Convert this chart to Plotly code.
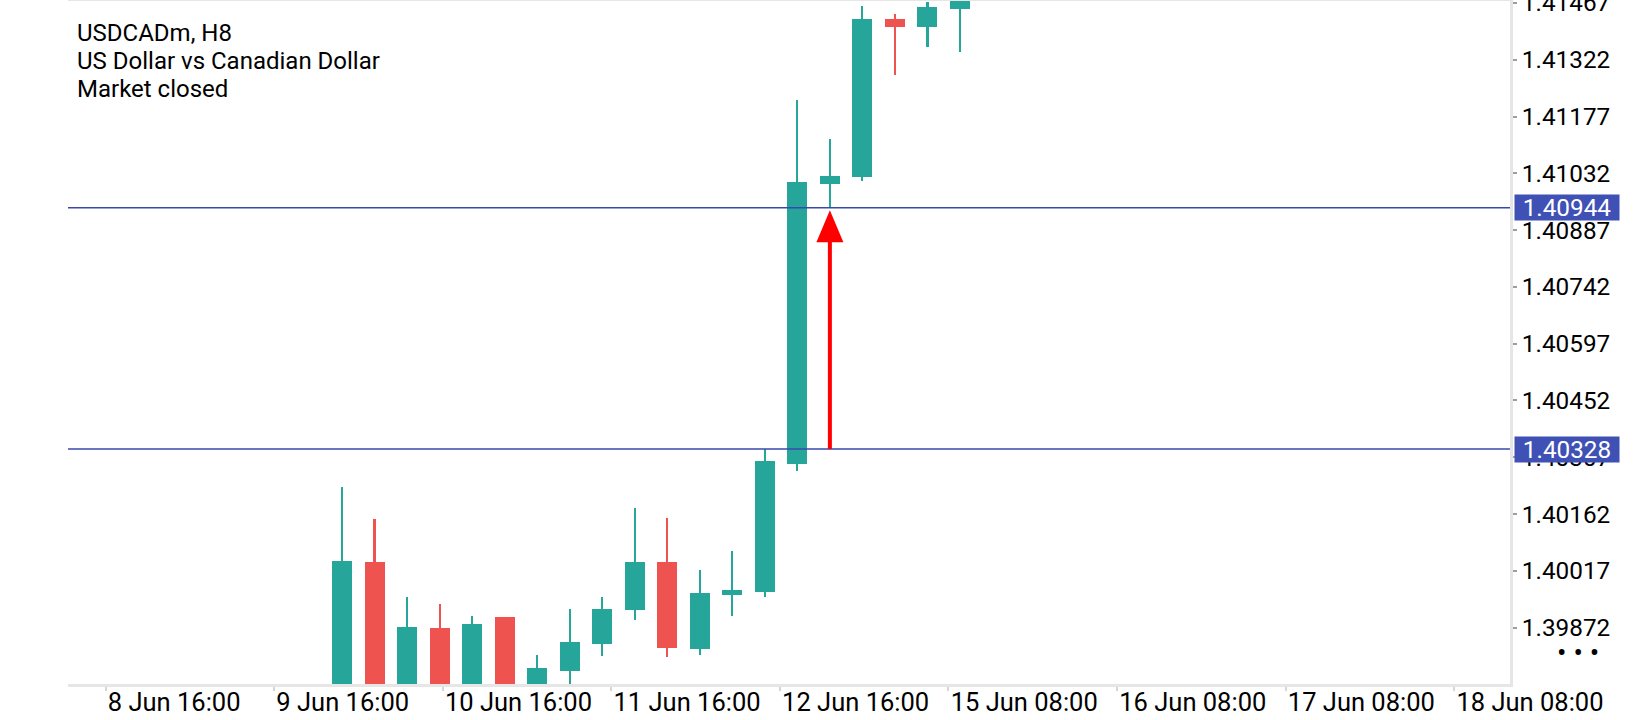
import plotly.graph_objects as go

# ---------------- data ----------------
opens  = [1.39650, 1.40040, 1.39700, 1.39872, 1.39710, 1.39900, 1.39720, 1.39762,
          1.39831, 1.39918, 1.40039, 1.39817, 1.39956, 1.39964, 1.40290, 1.41005,
          1.41023, 1.41426, 1.41405, 1.41451]
highs  = [1.40232, 1.40149, 1.39950, 1.39932, 1.39902, 1.39900, 1.39802, 1.39920,
          1.39950, 1.40177, 1.40152, 1.40019, 1.40068, 1.40327, 1.41219, 1.41119,
          1.41459, 1.41439, 1.41470, 1.41500]
lows   = [1.39600, 1.39650, 1.39660, 1.39680, 1.39690, 1.39700, 1.39705, 1.39715,
          1.39800, 1.39891, 1.39797, 1.39803, 1.39902, 1.39951, 1.40273, 1.40944,
          1.41013, 1.41284, 1.41355, 1.41342]
closes = [1.40043, 1.39690, 1.39874, 1.39700, 1.39881, 1.39715, 1.39769, 1.39835,
          1.39920, 1.40039, 1.39820, 1.39960, 1.39968, 1.40297, 1.41010, 1.41025,
          1.41426, 1.41405, 1.41457, 1.41485]

y_tick_labels = ["1.39872", "1.40017", "1.40162", "1.40307", "1.40452", "1.40597",
                 "1.40742", "1.40887", "1.41032", "1.41177", "1.41322", "1.41467"]
x_tick_labels = ["8 Jun 16:00", "9 Jun 16:00", "10 Jun 16:00", "11 Jun 16:00",
                 "12 Jun 16:00", "15 Jun 08:00", "16 Jun 08:00", "17 Jun 08:00",
                 "18 Jun 08:00"]
level_upper = 1.40944
level_lower = 1.40328
arrow_bar = 15
title_lines = ["USDCADm, H8", "US Dollar vs Canadian Dollar", "Market closed"]

# ---------------- styling ----------------
UP = "#26a69a"
DOWN = "#ef5350"
LEVEL = "#3949ab"
LABEL_BG = "#3f51b5"
FRAME = "#e6e6e6"
FONT = "Roboto"

idx = list(range(len(opens)))
colors = [UP if c >= o else DOWN for o, c in zip(opens, closes)]

fig = go.Figure()
# wicks
fig.add_trace(go.Bar(
    x=idx, base=lows, y=[h - l for h, l in zip(highs, lows)],
    width=0.065, marker=dict(color=colors, line=dict(width=0)),
    hoverinfo="skip", showlegend=False))
# bodies
fig.add_trace(go.Bar(
    x=idx, base=[min(o, c) for o, c in zip(opens, closes)],
    y=[abs(c - o) for o, c in zip(opens, closes)],
    width=0.615, marker=dict(color=colors, line=dict(width=0)),
    customdata=list(zip(opens, highs, lows, closes)),
    hovertemplate="O %{customdata[0]:.5f}<br>H %{customdata[1]:.5f}<br>"
                  "L %{customdata[2]:.5f}<br>C %{customdata[3]:.5f}<extra></extra>",
    showlegend=False))

x_first_tick, x_tick_step = -7.27, 5.183
x_tickvals = [x_first_tick + k * x_tick_step for k in range(len(x_tick_labels))]
y_tickvals = [float(s) for s in y_tick_labels]

fig.update_layout(
    width=1640, height=720,
    margin=dict(l=68, r=130, t=1, b=36, pad=0),
    paper_bgcolor="white", plot_bgcolor="white",
    barmode="overlay", bargap=0,
    font=dict(family=FONT, color="#000000"),
    xaxis=dict(
        range=[-8.424, 35.91], showgrid=False, zeroline=False,
        automargin=False, ticklabeloverflow="allow",
        tickvals=x_tickvals, ticktext=x_tick_labels,
        ticks="outside", ticklen=4, tickwidth=1.5, tickcolor="#d6d6d6",
        ticklabelposition="outside right", ticklabelstandoff=-7,
        tickfont=dict(family=FONT, size=25.5, color="#000000"),
        showline=True, linecolor=FRAME, linewidth=3, mirror=True,
        fixedrange=True),
    yaxis=dict(
        range=[1.39728, 1.41472], side="right", showgrid=False, zeroline=False,
        automargin=False, ticklabeloverflow="allow",
        tickvals=y_tickvals, ticktext=y_tick_labels,
        ticks="outside", ticklen=4, tickwidth=1.5, tickcolor="#9e9e9e",
        tickfont=dict(family=FONT, size=24.3, color="#000000"),
        showline=True, linecolor=FRAME, linewidth=3,
        fixedrange=True),
    hovermode="closest",
)

# horizontal levels
for lv in (level_upper, level_lower):
    fig.add_shape(type="line", xref="paper", yref="y", x0=0, x1=1, y0=lv, y1=lv,
                  line=dict(color=LEVEL, width=1.6), layer="above")
    fig.add_annotation(xref="paper", yref="y", x=1.0028, y=lv, xanchor="left",
                       yanchor="middle", text=f"{lv:.5f}", showarrow=False,
                       bgcolor=LABEL_BG, width=104, height=25, borderpad=0,
                       align="center",
                       font=dict(family=FONT, size=24.3, color="white"))

# red arrow: shaft + head
fig.add_shape(type="line", xref="x", yref="y", x0=arrow_bar, x1=arrow_bar,
              y0=level_lower, y1=level_upper - 0.0006,
              line=dict(color="#ff0000", width=4), layer="above")
fig.add_shape(type="path", xref="x", yref="y", xsizemode="pixel", ysizemode="pixel",
              xanchor=arrow_bar, yanchor=level_upper,
              path="M-13.5,-34.5 L13.5,-34.5 L0,-2.5 Z",
              fillcolor="#ff0000", line=dict(width=0), layer="above")

# top-left info text
for i, line in enumerate(title_lines):
    fig.add_annotation(xref="paper", yref="paper", x=(75 - 68) / 1442,
                       y=(684 - (32.5 + 28.3 * i)) / 683, xanchor="left", yanchor="middle",
                       text=line, showarrow=False,
                       font=dict(family=FONT, size=24, color="#000000"))

# menu dots
fig.add_annotation(xref="paper", yref="paper", x=(1578 - 68) / 1442, y=(684 - 652) / 683,
                   xanchor="center", yanchor="middle", text="• • •", showarrow=False,
                   font=dict(family=FONT, size=28, color="#000000"))

fig.write_html("out.html", config={"displayModeBar": False},
               post_script="document.body.style.margin='0px';")
